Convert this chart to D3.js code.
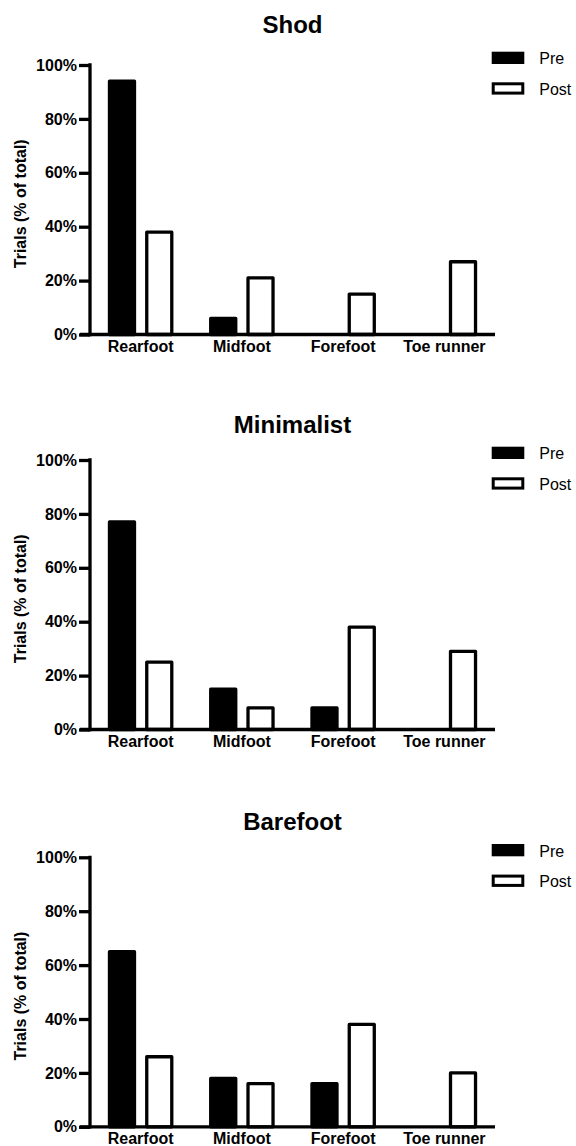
<!DOCTYPE html>
<html>
<head>
<meta charset="utf-8">
<script src="https://cdn.jsdelivr.net/npm/d3@7"></script>
<style>
  body { margin: 0; background: #fff; }
  text { font-family: "Liberation Sans", Arial, sans-serif; fill: #000; }
</style>
</head>
<body>
<div id="chart"></div>
<script>
// data (% of trials)
const categories = ["Rearfoot", "Midfoot", "Forefoot", "Toe runner"];
const series = ["Pre", "Post"];
const panelTitles = ["Shod", "Minimalist", "Barefoot"];
const shodPre = [94, 6, 0, 0];
const shodPost = [38, 21, 15, 27];
const minimalistPre = [77, 15, 8, 0];
const minimalistPost = [25, 8, 38, 29];
const barefootPre = [65, 18, 16, 0];
const barefootPost = [26, 16, 38, 20];
const yTicks = [0, 20, 40, 60, 80, 100];

const panelValues = [
  [shodPre, shodPost],
  [minimalistPre, minimalistPost],
  [barefootPre, barefootPost]
];

const width = 576;
const height = 1146;
const lw = 3.3; // Prism-style thick lines

// layout of each panel (top of axis = 100%)
const panelTop = [65, 460, 857.3];
const titleBase = [33, 433, 830];
const plotH = 269.5;
const xLeft = 90, xRight = 495;

const svg = d3.select("#chart")
  .append("svg")
  .attr("width", width)
  .attr("height", height);

const x0 = d3.scaleBand()
  .domain(categories)
  .range([xLeft, xRight])
  .paddingInner(0)
  .paddingOuter(0);

const x1 = d3.scaleBand()
  .domain(series)
  .range([0, x0.bandwidth()])
  .paddingInner(0.24)
  .paddingOuter(0.478);

panelTitles.forEach((title, p) => {
  const top = panelTop[p];
  const y = d3.scaleLinear().domain([0, 100]).range([top + plotH, top]);
  const g = svg.append("g");

  // title
  g.append("text")
    .attr("x", (xLeft + xRight) / 2)
    .attr("y", titleBase[p])
    .attr("text-anchor", "middle")
    .attr("font-size", "24px")
    .attr("font-weight", "bold")
    .text(title);

  // bars
  series.forEach((s, si) => {
    const vals = panelValues[p][si];
    g.append("g")
      .selectAll("rect")
      .data(categories.map((c, i) => ({ c, v: vals[i] })).filter(d => d.v > 0))
      .join("rect")
      .attr("x", d => x0(d.c) + x1(s) + lw / 2)
      .attr("width", x1.bandwidth() - lw)
      .attr("y", d => y(d.v))
      .attr("height", d => y(0) - y(d.v))
      .attr("fill", si === 0 ? "#000" : "#fff")
      .attr("stroke", "#000")
      .attr("stroke-width", lw)
      .attr("stroke-linejoin", "round");
  });

  // y axis
  const yAxis = g.append("g")
    .attr("transform", `translate(${xLeft},0)`)
    .call(d3.axisLeft(y).tickValues(yTicks).tickSize(11).tickPadding(2)
      .tickFormat(d => d + "%"));
  yAxis.select(".domain")
    .attr("d", `M0,${y(0)}V${y(100)}`)
    .attr("stroke-width", lw)
    .attr("stroke-linecap", "square");
  yAxis.selectAll(".tick line").attr("stroke-width", lw);
  yAxis.selectAll(".tick text")
    .attr("font-size", "16px")
    .attr("font-weight", "bold")
    .attr("font-family", "'Liberation Sans', Arial, sans-serif");

  // x axis
  const xAxis = g.append("g")
    .attr("transform", `translate(0,${y(0)})`)
    .call(d3.axisBottom(x0).tickSize(0).tickPadding(6));
  xAxis.select(".domain")
    .attr("d", `M${xLeft - 10},0H${xRight}`)
    .attr("stroke-width", lw);
  xAxis.selectAll(".tick text")
    .attr("font-size", "16px")
    .attr("font-weight", "bold")
    .attr("font-family", "'Liberation Sans', Arial, sans-serif");

  // y label
  g.append("text")
    .attr("transform", `translate(26,${top + plotH / 2 + 4}) rotate(-90)`)
    .attr("text-anchor", "middle")
    .attr("font-size", "16px")
    .attr("font-weight", "bold")
    .text("Trials (% of total)");

  // legend
  const leg = g.append("g").attr("transform", `translate(491.7,${top})`);
  series.forEach((s, si) => {
    const ly = -13.3 + si * 30.6;
    leg.append("rect")
      .attr("x", si === 0 ? 0 : 1.5)
      .attr("y", si === 0 ? ly : ly + 1.5)
      .attr("width", si === 0 ? 32.6 : 29.6)
      .attr("height", si === 0 ? 12.3 : 9.3)
      .attr("fill", si === 0 ? "#000" : "#fff")
      .attr("stroke", si === 0 ? "none" : "#000")
      .attr("stroke-width", 3);
    leg.append("text")
      .attr("x", 47.6)
      .attr("y", ly + 12.5)
      .attr("font-size", "16px")
      .text(s);
  });
});
</script>
</body>
</html>
